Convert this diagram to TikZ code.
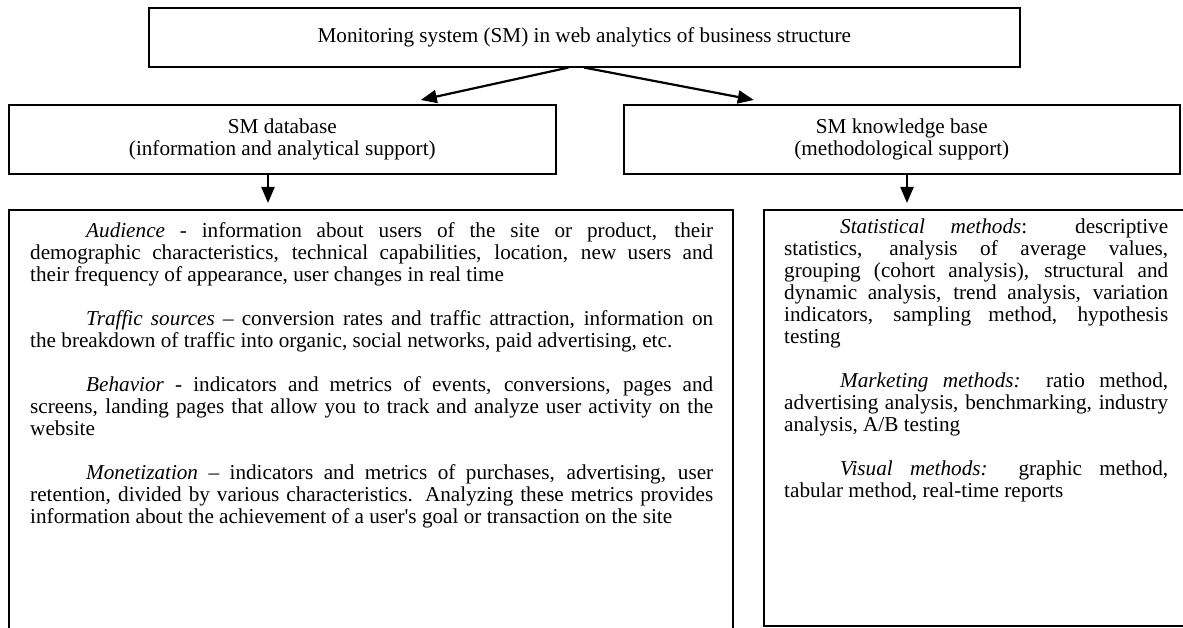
\documentclass[tikz,border=0pt]{standalone}
\usepackage{fontspec}
\setmainfont{Liberation Serif}[Ligatures=TeXOff]
\usetikzlibrary{arrows.meta}
\begin{document}
\begin{tikzpicture}[x=1pt,y=1pt,
  box/.style={draw, line width=1.6pt, inner sep=0pt},
  arr/.style={line width=2.2pt, -{Triangle[length=16pt,width=13pt]}},
  txt/.style={font=\fontsize{21.2}{22}\selectfont, inner sep=0pt},
  para/.style={txt, align=justify, anchor=north west},
]
\useasboundingbox (0,0) rectangle (1183,-628);
\clip (0,0) rectangle (1183,-628);

% top level
\node[box, txt, minimum width=871pt, minimum height=59pt, anchor=north west] (sys) at (148,-7)
  {Monitoring system (SM) in web analytics of business structure};

% second level
\node[box, txt, align=center, minimum width=547pt, minimum height=69pt, anchor=north west] (db) at (8,-104)
  {SM database\\(information and analytical support)};
\node[box, txt, align=center, minimum width=556pt, minimum height=69pt, anchor=north west] (kb) at (623,-104)
  {SM knowledge base\\(methodological support)};

% third level frames
\node[box, minimum width=724pt, minimum height=440pt, anchor=north west] (data) at (8,-209) {};
\node[box, minimum width=440pt, minimum height=416pt, anchor=north west] (meth) at (763,-209) {};

% contents of the data frame
\node[para, text width=683pt] (datatxt) at (30,-222) {%
\parindent=0pt
\hspace*{56pt}\textit{Audience} - information about users of the site or product, their\linebreak
demographic characteristics, technical capabilities, location, new users and\linebreak
their frequency of appearance, user changes in real time\par\vspace{22pt}
\hspace*{56pt}\textit{Traffic sources} – conversion rates and traffic attraction, information on\linebreak
the breakdown of traffic into organic, social networks, paid advertising, etc.\par\vspace{22pt}
\hspace*{56pt}\textit{Behavior} - indicators and metrics of events, conversions, pages and\linebreak
screens, landing pages that allow you to track and analyze user activity on the\linebreak
website\par\vspace{22pt}
\hspace*{56pt}\textit{Monetization} – indicators and metrics of purchases, advertising, user\linebreak
retention, divided by various characteristics. Analyzing these metrics provides\linebreak
information about the achievement of a user's goal or transaction on the site\par};

% contents of the methods frame
\node[para, text width=384pt] (methtxt) at (784,-219) {%
\parindent=0pt
\hspace*{56pt}\textit{Statistical methods}: descriptive\linebreak
statistics, analysis of average values,\linebreak
grouping (cohort analysis), structural and\linebreak
dynamic analysis, trend analysis, variation\linebreak
indicators, sampling method, hypothesis\linebreak
testing\par\vspace{22pt}
\hspace*{56pt}\textit{Marketing methods:} ratio method,\linebreak
advertising analysis, benchmarking, industry\linebreak
analysis, A/B testing\par\vspace{22pt}
\hspace*{56pt}\textit{Visual methods:} graphic method,\linebreak
tabular method, real-time reports\par};

% connectors
\draw[arr] ([xshift=-16pt]sys.south) -- ([xshift=138.5pt,yshift=4pt]db.north);
\draw[arr] (sys.south) -- ([xshift=-148pt,yshift=4pt]kb.north);
\draw[arr] (db.south -| 268,0) -- ([yshift=6pt]data.north -| 268,0);
\draw[arr] (kb.south -| 907,0) -- ([yshift=6pt]meth.north -| 907,0);
\end{tikzpicture}
\end{document}
